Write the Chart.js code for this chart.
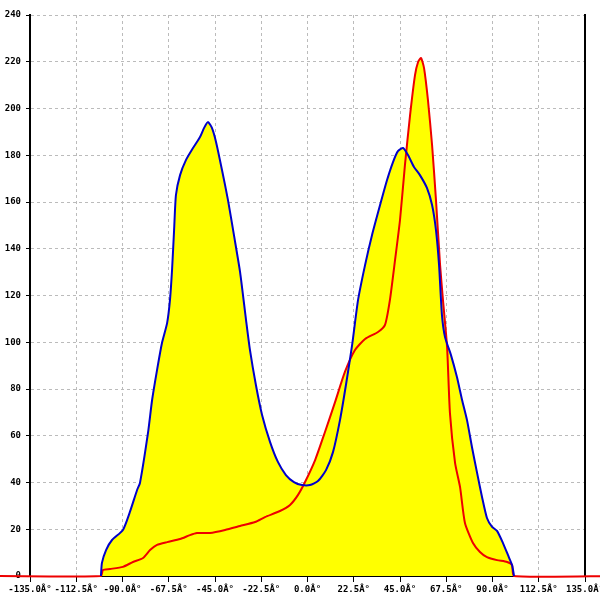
<!DOCTYPE html>
<html>
<head>
<meta charset="utf-8">
<script src="https://cdn.jsdelivr.net/npm/chart.js@4/dist/chart.umd.min.js"></script>
<style>
  html, body { margin: 0; padding: 0; background: #fff; }
  canvas { display: block; }
</style>
</head>
<body>
<canvas id="histogram" width="600" height="600"></canvas>
<script>
// angle ticks (deg) and count ticks
const xTicks = [-135, -112.5, -90, -67.5, -45, -22.5, 0, 22.5, 45, 67.5, 90, 112.5, 135];
const yTicks = [0, 20, 40, 60, 80, 100, 120, 140, 160, 180, 200, 220, 240];

// blue series
const blueX = [-100.5,-100.0,-98.0,-95.1,-89.8,-86.4,-82.9,-81.5,-77.6,-75.6,-73.2,-70.8,-68.3,-66.9,-65.9,-64.9,-64.0,-62.0,-59.1,-55.7,-52.3,-50.3,-48.4,-46.5,-44.5,-41.6,-38.7,-35.8,-32.8,-29.9,-28.0,-25.1,-22.1,-18.2,-14.4,-10.5,-6.6,-2.7,1.2,5.1,9.0,12.4,15.8,18.7,21.7,24.6,28.0,31.4,35.3,38.7,41.6,44.0,46.5,48.9,51.8,54.7,58.1,60.6,62.5,64.0,65.4,66.9,69.8,72.7,75.2,77.6,80.0,82.5,84.9,87.3,89.8,92.2,95.1,97.5,99.5,100.5];
const blueY = [0,5.6,11.1,15.4,19.7,27.4,36.8,39.8,61.2,75.3,88.1,99.7,108.2,118.1,130.9,148,163,171.5,178,183.1,187.8,191.7,194.2,191.7,185.7,173.7,160.9,145.9,130,109.5,96.7,81.7,68.9,57.3,48.8,43.2,40.2,38.9,38.9,40.6,45.3,53,66.7,81.7,98.8,118.1,133,145.9,158.7,169.4,177.1,181.8,183.1,180.1,175,171.5,166,158.7,148,133,111.7,102.2,94.5,85.1,75.3,66.7,55.2,44.1,33.8,24.8,21,19.3,14.1,9,4.7,0];

// red series (runs along zero outside the data range)
const redX = [-150,-100.5,-99.5,-96.1,-89.8,-84.9,-80.0,-76.6,-73.2,-68.3,-62.0,-57.2,-53.8,-47.4,-40.1,-32.8,-25.5,-20.7,-13.4,-8.5,-4.6,-1.2,3.7,8.5,13.4,18.2,23.1,28.0,34.3,37.7,40.1,42.6,45.0,47.4,49.9,52.3,53.8,55.2,56.7,58.6,60.6,62.5,64.5,65.9,67.9,69.3,71.8,74.2,76.6,80.5,83.9,87.3,92.2,97.1,99.5,100.5,150];
const redY = [0,0,2.6,3,3.9,6,7.7,11.1,13.3,14.5,15.8,17.5,18.4,18.4,19.7,21.4,23.1,25.2,27.8,30.4,34.7,40.2,49.6,61.6,74.4,87.3,96.7,101.4,104.4,107.4,118.1,135.2,152.3,175.8,197.2,214.3,219.9,221.6,217.3,203.6,184.4,160.9,133,118.1,98,69.7,48.3,38.1,22.7,14.1,10.3,8.1,6.8,6,4.7,0,0];

const toPoints = (xs, ys) => xs.map((x, i) => ({ x: x, y: ys[i] }));
const font = { family: 'DejaVu Sans Mono', size: 9, weight: 'bold' };

const ctx = document.getElementById('histogram').getContext('2d');
new Chart(ctx, {
  type: 'line',
  data: {
    datasets: [{
      data: toPoints(blueX, blueY),
      borderColor: '#0000cc',
      backgroundColor: '#ffff00',
      borderWidth: 2,
      fill: 'origin',
      pointRadius: 0,
      tension: 0.2
    }, {
      data: toPoints(redX, redY),
      borderColor: '#ee0000',
      backgroundColor: '#ffff00',
      borderWidth: 2,
      fill: 'origin',
      pointRadius: 0,
      tension: 0.2,
      clip: false
    }]
  },
  options: {
    responsive: false,
    animation: false,
    layout: { padding: { top: 15, right: 15, left: 0, bottom: 0 } },
    scales: {
      x: {
        type: 'linear',
        min: -135,
        max: 135,
        afterBuildTicks: (scale) => { scale.ticks = xTicks.map(v => ({ value: v })); },
        afterFit: (scale) => { scale.height = 24; scale.paddingLeft = 0; scale.paddingRight = 0; },
        ticks: {
          color: '#000',
          font: font,
          padding: 2,
          maxRotation: 0,
          autoSkip: false,
          callback: (v) => v.toFixed(1) + 'Â°'
        },
        grid: { color: '#bbbbbb', tickColor: '#000', tickLength: 6, tickBorderDash: [] },
        border: { color: '#000', width: 1, dash: [3, 3] }
      },
      y: {
        min: 0,
        max: 240,
        afterBuildTicks: (scale) => { scale.ticks = yTicks.map(v => ({ value: v })); },
        afterFit: (scale) => { scale.width = 30; scale.paddingTop = 0; scale.paddingBottom = 0; },
        ticks: { color: '#000', font: font, padding: 5 },
        grid: { color: '#bbbbbb', tickColor: '#000', tickLength: 4, tickBorderDash: [] },
        border: { color: '#000', width: 2, dash: [3, 3] }
      },
      y2: {
        position: 'right',
        min: 0,
        max: 240,
        afterFit: (scale) => { scale.width = 0; scale.paddingTop = 0; scale.paddingBottom = 0; },
        ticks: { display: false },
        grid: { display: false },
        border: { display: true, color: '#000', width: 2 }
      }
    },
    plugins: {
      legend: { display: false },
      tooltip: { enabled: false },
      filler: { drawTime: 'beforeDatasetsDraw' }
    }
  }
});
</script>
</body>
</html>
